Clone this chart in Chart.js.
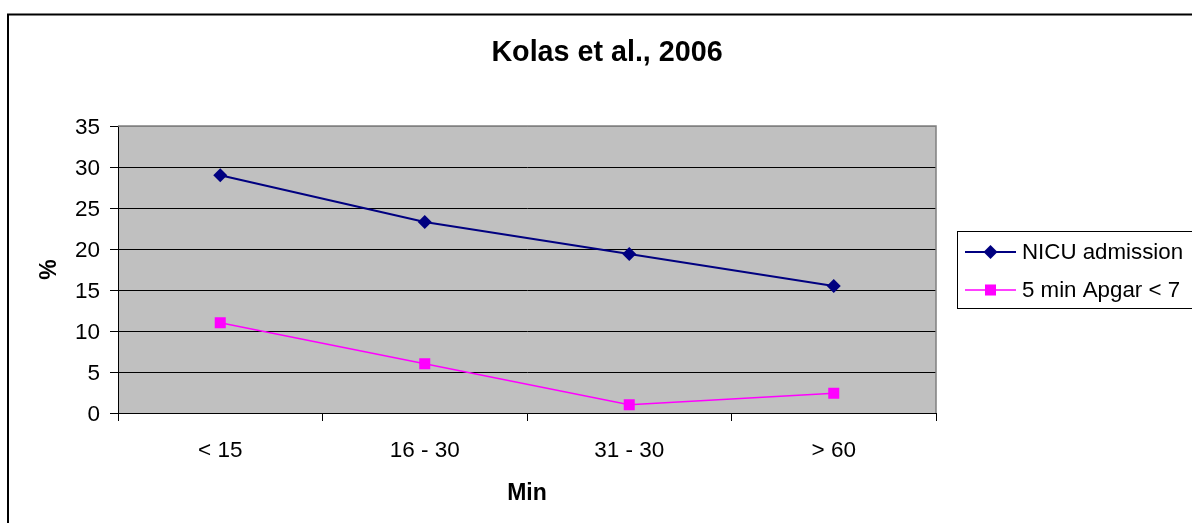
<!DOCTYPE html>
<html>
<head>
<meta charset="utf-8">
<title>Kolas et al., 2006</title>
<script src="https://cdn.jsdelivr.net/npm/chart.js"></script>
<style>
  html, body { margin: 0; padding: 0; background: #fff; overflow: hidden; }
  canvas { display: block; }
</style>
</head>
<body>
<canvas id="kolasChart" width="1192" height="523"></canvas>
<script>
// values
const chartTitle = 'Kolas et al., 2006';
const categories = ['< 15', '16 - 30', '31 - 30', '> 60'];
const nicuAdmission = [29, 23.3, 19.4, 15.5];
const apgarBelow7 = [11, 6, 1, 2.4];
const seriesNames = ['NICU admission', '5 min Apgar < 7'];
const yTicks = [0, 5, 10, 15, 20, 25, 30, 35];

const FONT = '"Liberation Sans", Arial, sans-serif';
Chart.defaults.font.family = FONT;
Chart.defaults.color = '#000';

function drawMarker(ctx, style, x, y, r, color) {
    ctx.save();
    ctx.fillStyle = color;
    ctx.beginPath();
    if (style === 'rectRot') {
        ctx.moveTo(x, y - r);
        ctx.lineTo(x + r, y);
        ctx.lineTo(x, y + r);
        ctx.lineTo(x - r, y);
        ctx.closePath();
    } else {
        const s = r * Math.SQRT1_2;
        ctx.rect(x - s, y - s, s * 2, s * 2);
    }
    ctx.fill();
    ctx.restore();
}

// background, frame, plot area, title and legend (excel look)
const excelFrame = {
    id: 'excelFrame',
    beforeDraw(chart) {
        const {ctx, chartArea: a} = chart;
        ctx.save();
        ctx.fillStyle = '#fff';
        ctx.fillRect(0, 0, chart.width, chart.height);
        ctx.strokeStyle = '#000';
        ctx.lineWidth = 2;
        ctx.strokeRect(8, 14.5, chart.width + 20, chart.height + 20);
        ctx.fillStyle = '#c0c0c0';
        ctx.fillRect(a.left, a.top, a.right - a.left, a.bottom - a.top);
        ctx.restore();
    },
    beforeDatasetsDraw(chart) {
        const {ctx, chartArea: a} = chart;
        ctx.save();
        ctx.strokeStyle = '#808080';
        ctx.lineWidth = 1.5;
        ctx.beginPath();
        ctx.moveTo(a.left, a.top);
        ctx.lineTo(a.right, a.top);
        ctx.lineTo(a.right, a.bottom);
        ctx.stroke();
        ctx.restore();
    },
    afterDraw(chart) {
        const ctx = chart.ctx;
        ctx.save();
        ctx.fillStyle = '#000';
        ctx.font = 'bold 28.7px ' + FONT;
        ctx.textAlign = 'center';
        ctx.textBaseline = 'middle';
        ctx.fillText(chartTitle, 607, 53);

        // legend box
        ctx.strokeStyle = '#000';
        ctx.lineWidth = 1;
        ctx.fillStyle = '#fff';
        ctx.fillRect(957.5, 231.5, 260, 77);
        ctx.strokeRect(957.5, 231.5, 260, 77);
        ctx.font = '22.3px ' + FONT;
        ctx.textAlign = 'left';
        chart.data.datasets.forEach((ds, i) => {
            const y = 252 + i * 38;
            ctx.strokeStyle = ds.borderColor;
            ctx.lineWidth = ds.borderWidth;
            ctx.beginPath();
            ctx.moveTo(965, y);
            ctx.lineTo(1016, y);
            ctx.stroke();
            drawMarker(ctx, ds.pointStyle, 990.5, y, ds.pointRadius, ds.backgroundColor);
            ctx.fillStyle = '#000';
            ctx.fillText(ds.label, 1022, y + 1);
        });
        ctx.restore();
    }
};

const ctx = document.getElementById('kolasChart').getContext('2d');
new Chart(ctx, {
    type: 'line',
    data: {
        labels: categories,
        datasets: [{
            label: seriesNames[0],
            data: nicuAdmission,
            borderColor: '#000080',
            backgroundColor: '#000080',
            borderWidth: 2,
            pointStyle: 'rectRot',
            pointRadius: 7,
            pointBorderWidth: 0,
            tension: 0
        }, {
            label: seriesNames[1],
            data: apgarBelow7,
            borderColor: '#ff00ff',
            backgroundColor: '#ff00ff',
            borderWidth: 1.5,
            pointStyle: 'rect',
            pointRadius: 7.8,
            pointBorderWidth: 0,
            tension: 0
        }]
    },
    options: {
        responsive: false,
        animation: false,
        layout: { padding: { left: 0, right: 256, top: 126, bottom: 0 } },
        plugins: {
            legend: { display: false },
            title: { display: false },
            tooltip: { enabled: false }
        },
        scales: {
            x: {
                offset: true,
                afterFit: s => { s.height = 110; },
                grid: { drawOnChartArea: false, drawTicks: true, tickLength: 8, color: '#000', offset: true },
                border: { color: '#000', width: 1 },
                ticks: { font: { size: 22.5 }, padding: 16, color: '#000' },
                title: { display: true, text: 'Min', font: { size: 23, weight: 'bold' }, padding: { top: 0, bottom: 16 } }
            },
            y: {
                min: 0,
                max: 35,
                afterFit: s => { s.width = 118; },
                afterBuildTicks: s => { s.ticks = yTicks.map(v => ({ value: v })); },
                grid: {
                    color: c => (c.tick && c.tick.value === 35 ? '#808080' : '#000'),
                    tickColor: '#000',
                    tickLength: 8,
                    lineWidth: 1
                },
                border: { color: '#000', width: 1 },
                ticks: { font: { size: 22.5 }, padding: 10, labelOffset: 2, color: '#000' },
                title: { display: true, text: '%', font: { size: 23, weight: 'bold' }, padding: { top: 36, bottom: 0 } }
            }
        }
    },
    plugins: [excelFrame]
});
</script>
</body>
</html>
